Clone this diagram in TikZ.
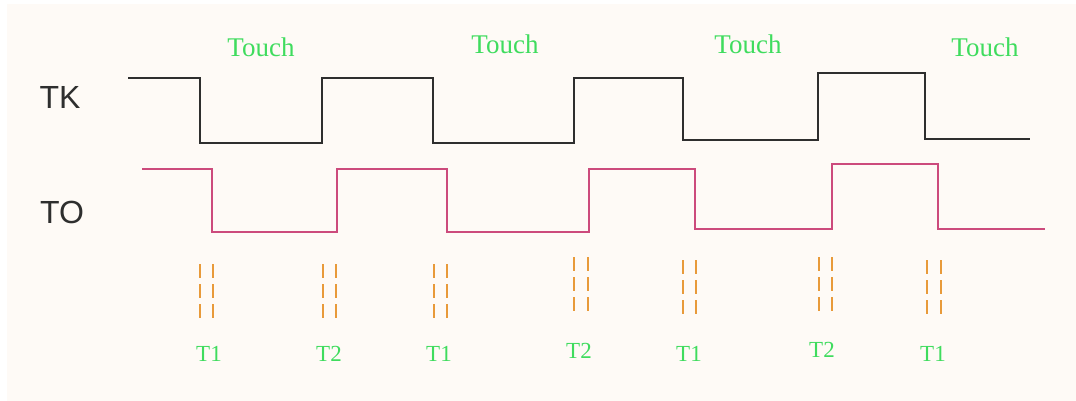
\documentclass[tikz,border=0pt]{standalone}
\usepackage{fontspec}
\setmainfont{Liberation Serif}
\newfontfamily\arialfont{Liberation Sans}
\definecolor{bgcol}{HTML}{FEFAF6}
\definecolor{tkcol}{HTML}{2E2E2E}
\definecolor{tocol}{HTML}{CC4A7C}
\definecolor{dashcol}{HTML}{E89A3A}
\definecolor{txtgreen}{HTML}{3FDC5E}
\begin{document}
\begin{tikzpicture}[x=1pt,y=-1pt,
  tkline/.style={draw=tkcol,line width=2.4pt,line join=miter},
  toline/.style={draw=tocol,line width=2pt,line join=miter},
  tdash/.style={draw=dashcol,line width=1.6pt,dash pattern=on 14pt off 6pt},
  touchlbl/.style={text=txtgreen,font=\fontsize{27}{27}\selectfont,inner sep=0pt},
  tlbl/.style={text=txtgreen,font=\fontsize{23}{23}\selectfont,inner sep=0pt},
  siglbl/.style={text=tkcol,font=\arialfont\fontsize{32}{32}\selectfont,inner sep=0pt}]
\useasboundingbox (0,0) rectangle (1076,401);
\fill[white] (0,0) rectangle (1076,401);
\fill[bgcol] (7,4) rectangle (1076,401);
% signal labels
\node[siglbl] (tk) at (60,97) {TK};
\node[siglbl] (to) at (62,212) {TO};
% Touch labels
\node[touchlbl] (touch1) at (261,47) {Touch};
\node[touchlbl] (touch2) at (505,44) {Touch};
\node[touchlbl] (touch3) at (748,44) {Touch};
\node[touchlbl] (touch4) at (985,47) {Touch};
% TK waveform
\draw[tkline] (128,78) -- (200,78) -- (200,143) -- (322,143) -- (322,78)
  -- (433,78) -- (433,143) -- (574,143) -- (574,78) -- (683,78) -- (683,140)
  -- (818,140) -- (818,73) -- (925,73) -- (925,139) -- (1030,139);
% TO waveform
\draw[toline] (142,169) -- (212,169) -- (212,232) -- (337,232) -- (337,169)
  -- (447,169) -- (447,232) -- (589,232) -- (589,169) -- (695,169) -- (695,229)
  -- (832,229) -- (832,164) -- (938,164) -- (938,229) -- (1045,229);
% timing markers
\foreach \a/\b/\t/\bt/\lx/\ly/\n/\lab in
  {200/213/264/321/209/354/m1/T1,
   323/336/264/321/329/354/m2/T2,
   434/447/264/321/439/354/m3/T1,
   574/588/257/312/579/351/m4/T2,
   683/696/260/315/689/354/m5/T1,
   819/832/257/312/822/350/m6/T2,
   927/941/260/315/933/354/m7/T1}{
  \coordinate (\n a1) at (\a,\t); \coordinate (\n a2) at (\a,\bt);
  \coordinate (\n b1) at (\b,\t); \coordinate (\n b2) at (\b,\bt);
  \draw[tdash] (\n a1) -- (\n a2);
  \draw[tdash] (\n b1) -- (\n b2);
  \node[tlbl] (\n l) at (\lx,\ly) {\lab};
}
\end{tikzpicture}
\end{document}
